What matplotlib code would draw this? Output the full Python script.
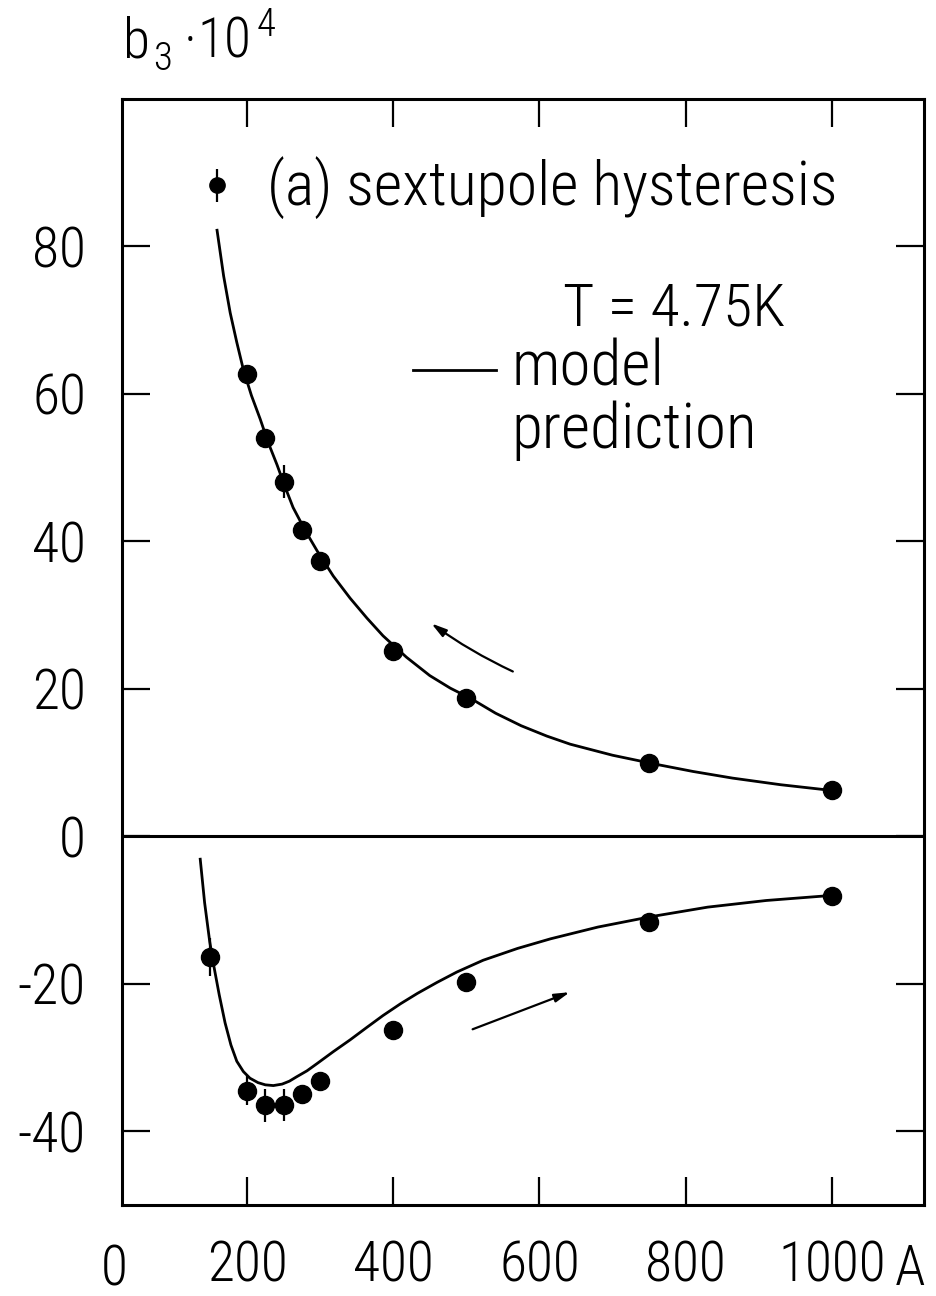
import numpy as np
import matplotlib
matplotlib.use("Agg")
import matplotlib.pyplot as plt

plt.rcParams['font.family'] = ['Roboto Condensed', 'DejaVu Sans Condensed', 'Liberation Sans Narrow',
                               'Liberation Sans', 'DejaVu Sans']
plt.rcParams['font.stretch'] = 'condensed'
plt.rcParams['font.weight'] = 'light'

# measured points, current in A, b3 in units of 1e-4
up_I = [200, 225, 250, 275, 300, 400, 500, 750, 1000]
up_b3 = [62.7, 54.0, 48.1, 41.6, 37.3, 25.2, 18.8, 10.0, 6.3]
up_err = [0, 0, 2.2, 0, 0, 0, 0, 0, 0]

down_I = [150, 200, 225, 250, 275, 300, 400, 500, 750, 1000]
down_b3 = [-16.4, -34.5, -36.5, -36.4, -34.9, -33.2, -26.2, -19.8, -11.6, -8.1]
down_err = [2.6, 2.0, 2.2, 2.2, 0, 0, 0, 0, 0, 0]

# model prediction curves
model_up_I = [159, 168, 177, 186, 195, 206, 218, 229, 241, 252, 263, 280, 296, 318, 341, 364, 386,
              418, 450, 478, 506, 540, 575, 610, 642, 700, 758, 810, 864, 930, 1002]
model_up_b3 = [82.2, 76.0, 71.0, 67.0, 63.3, 59.8, 56.6, 53.4, 50.4, 47.4, 44.6, 41.4, 38.7, 35.3,
               32.3, 29.6, 27.2, 24.3, 21.8, 20.1, 18.7, 16.7, 15.0, 13.6, 12.5, 11.0, 9.8, 8.8,
               7.9, 7.0, 6.2]

model_down_I = [136, 142, 149, 155, 162, 170, 178, 186, 195, 204, 215, 225, 236, 248, 258, 268, 282,
                296, 318, 341, 364, 386, 410, 433, 460, 487, 523, 570, 615, 680, 752, 830, 910, 1001]
model_down_b3 = [-3.1, -9.0, -14.3, -17.8, -21.5, -25.3, -28.3, -30.5, -31.9, -32.8, -33.4, -33.7,
                 -33.8, -33.6, -33.2, -32.6, -31.8, -30.8, -29.2, -27.6, -25.9, -24.3, -22.7, -21.3,
                 -19.8, -18.4, -16.8, -15.2, -13.9, -12.3, -10.9, -9.6, -8.7, -8.0]

xticks = [200, 400, 600, 800, 1000]
xticklabels = ['200', '400', '600', '800', '1000']
yticks = [-40, -20, 0, 20, 40, 60, 80]
yticklabels = ['-40', '-20', '0', '20', '40', '60', '80']

fig = plt.figure(figsize=(9.37, 12.96), dpi=100)
ax = fig.add_axes([0.1302, 0.0702, 0.856, 0.8534])
renderer = fig.canvas.get_renderer()


def fit_width(txt, target_px):
    # scale font size so the rendered text has the width seen in the scan
    w = txt.get_window_extent(renderer).width
    txt.set_fontsize(txt.get_fontsize() * target_px / w)


ax.plot(model_up_I, model_up_b3, color='black', lw=2.0, solid_joinstyle='round')
ax.plot(model_down_I, model_down_b3, color='black', lw=2.0, solid_joinstyle='round')

for I, b, e in [(up_I, up_b3, up_err), (down_I, down_b3, down_err)]:
    ax.errorbar(I, b, yerr=e, fmt='o', color='black', ms=13, elinewidth=1.6, capsize=0)

ax.axhline(0, color='black', lw=2.2)

ax.set_xlim(29, 1126)
ax.set_ylim(-50, 100)

ax.set_xticks(xticks)
ax.set_xticklabels(xticklabels)
ax.set_yticks(yticks)
ax.set_yticklabels(yticklabels)
ax.tick_params(axis='both', direction='in', length=20, width=1.6, labelsize=40,
               top=True, right=True)
ax.tick_params(axis='x', pad=25)
ax.tick_params(axis='y', pad=26)
for s in ax.spines.values():
    s.set_linewidth(2.2)

# legend-like annotations
ax.errorbar([159], [88.3], yerr=[2.2], fmt='o', color='black', ms=11, elinewidth=1.6, capsize=0)
t1 = ax.text(228, 88.0, '(a) sextupole hysteresis', fontsize=34, va='center', ha='left')
t2 = ax.text(632, 71.5, 'T = 4.75K', fontsize=30, va='center', ha='left')
ax.plot([427, 540], [63.3, 63.3], color='black', lw=2.0)
t3 = ax.text(562, 63.5, 'model', fontsize=34, va='center', ha='left')
t4 = ax.text(562, 55.0, 'prediction', fontsize=34, va='center', ha='left')
fit_width(t1, 570)
fit_width(t2, 222)
fit_width(t4, 245)
t3.set_fontsize(t4.get_fontsize())

# direction arrows
ax.annotate('', xy=(449, 29.1), xytext=(567, 22.2),
            arrowprops=dict(arrowstyle='-|>,head_length=0.9,head_width=0.25', color='black',
                            lw=1.6, connectionstyle='arc3,rad=-0.05'))
ax.annotate('', xy=(645, -21.0), xytext=(505, -26.3),
            arrowprops=dict(arrowstyle='-|>,head_length=0.9,head_width=0.25', color='black',
                            lw=1.6))

# axis captions
fig.text(114 / 937, 1 - 1285 / 1296, '0', fontsize=40, ha='center', va='baseline')
fig.text(895 / 937, 1 - 1285 / 1296, 'A', fontsize=40, ha='left', va='baseline')
fig.text(123 / 937, 1 - 58 / 1296, 'b', fontsize=40, ha='left', va='baseline')
fig.text(153 / 937, 1 - 70 / 1296, '3', fontsize=28, ha='left', va='baseline')
fig.text(190 / 937, 1 - 58 / 1296, '·', fontsize=40, ha='center', va='baseline')
fig.text(197 / 937, 1 - 58 / 1296, '10', fontsize=40, ha='left', va='baseline')
fig.text(257 / 937, 1 - 36 / 1296, '4', fontsize=28, ha='left', va='baseline')

fig.savefig('out.png', dpi=100)
